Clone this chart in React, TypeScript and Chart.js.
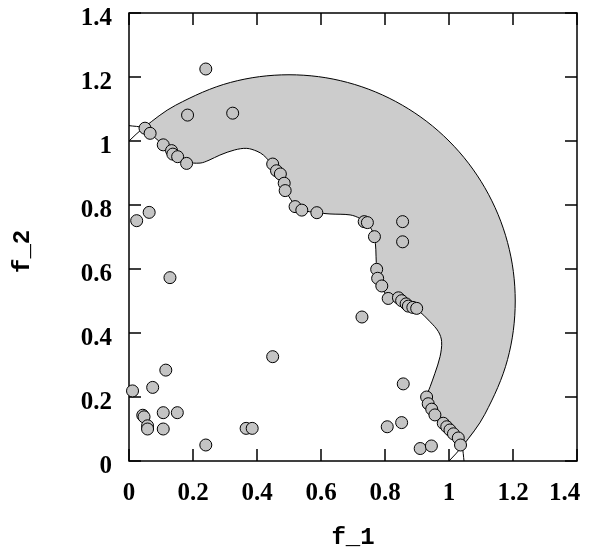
import React, { useEffect, useRef } from 'react';
import { Chart, registerables } from 'chart.js';

Chart.register(...registerables);

// ---- data ----
const scatterX = [
  0.240, 0.183, 0.324, 0.050, 0.066, 0.107, 0.133, 0.137, 0.152, 0.180,
  0.449, 0.461, 0.473, 0.485, 0.488, 0.519, 0.540, 0.587, 0.735, 0.745,
  0.767, 0.855, 0.855, 0.774, 0.777, 0.790, 0.810, 0.842, 0.852, 0.866,
  0.873, 0.887, 0.899, 0.728, 0.857, 0.930, 0.935, 0.946, 0.956, 0.982,
  0.993, 1.003, 1.014, 1.029, 1.036, 0.807, 0.852, 0.910, 0.945, 0.024,
  0.063, 0.128, 0.449, 0.011, 0.074, 0.115, 0.043, 0.047, 0.058, 0.058,
  0.107, 0.151, 0.107, 0.240, 0.366, 0.385,
];
const scatterY = [
  1.225, 1.081, 1.087, 1.040, 1.024, 0.988, 0.970, 0.959, 0.951, 0.930,
  0.928, 0.907, 0.897, 0.868, 0.845, 0.795, 0.784, 0.776, 0.748, 0.745,
  0.701, 0.748, 0.685, 0.599, 0.571, 0.547, 0.508, 0.510, 0.501, 0.491,
  0.484, 0.480, 0.477, 0.450, 0.241, 0.200, 0.179, 0.162, 0.144, 0.118,
  0.107, 0.097, 0.085, 0.072, 0.050, 0.107, 0.120, 0.039, 0.047, 0.751,
  0.777, 0.573, 0.326, 0.219, 0.230, 0.284, 0.143, 0.138, 0.110, 0.100,
  0.151, 0.151, 0.100, 0.050, 0.102, 0.102,
];

// outer boundary of the shaded region (first/last points are the tails to the axes)
const outerX = [0.0, 0.045, 0.146, 0.317, 0.5, 0.683, 0.854, 1.0, 1.112, 1.183, 1.207, 1.183, 1.112, 1.041, 1.0];
const outerY = [1.0, 1.041, 1.112, 1.183, 1.207, 1.183, 1.112, 1.0, 0.854, 0.683, 0.5, 0.317, 0.146, 0.045, 0.0];

// inner (wavy) boundary of the shaded region
const innerX = [
  0.0, 0.045, 0.07, 0.107, 0.14, 0.18, 0.222, 0.25, 0.284, 0.33, 0.368, 0.40,
  0.42, 0.44, 0.455, 0.47, 0.485, 0.49, 0.505, 0.522, 0.54, 0.587, 0.628,
  0.691, 0.722, 0.745, 0.762, 0.77, 0.772, 0.774, 0.78, 0.795, 0.81, 0.84,
  0.87, 0.9, 0.941, 0.967, 0.977, 0.972, 0.956, 0.941, 0.930, 0.935, 0.95,
  0.968, 0.99, 1.01, 1.03, 1.041, 1.047,
];
const innerY = [
  1.048, 1.041, 1.02, 0.988, 0.958, 0.935, 0.931, 0.94, 0.956, 0.972, 0.977, 0.968,
  0.956, 0.935, 0.915, 0.895, 0.865, 0.845, 0.818, 0.795, 0.784, 0.776, 0.772,
  0.769, 0.758, 0.742, 0.715, 0.68, 0.64, 0.60, 0.565, 0.535, 0.51, 0.505,
  0.49, 0.474, 0.435, 0.404, 0.373, 0.326, 0.274, 0.232, 0.201, 0.178, 0.152,
  0.132, 0.11, 0.09, 0.068, 0.045, 0.0,
];

const axisMin = 0;
const axisMax = 1.4;
const tickStep = 0.2;
const xTitle = 'f_1';
const yTitle = 'f_2';

const serif = "'Liberation Serif', 'Times New Roman', Times, serif";
const mono = "'Liberation Mono', 'Courier New', Courier, monospace";

const framePlugin = {
  id: 'frameTicks',
  beforeDatasetsDraw(chart: any) {
    const { ctx, chartArea: a, scales } = chart;
    const x = scales.x;
    const y = scales.y;
    const len = 12;
    ctx.save();
    ctx.strokeStyle = '#000';
    ctx.lineWidth = 1.5;
    ctx.strokeRect(a.left, a.top, a.right - a.left, a.bottom - a.top);
    ctx.beginPath();
    x.ticks.forEach((t: any) => {
      const px = x.getPixelForValue(t.value);
      ctx.moveTo(px, a.bottom);
      ctx.lineTo(px, a.bottom - len);
      ctx.moveTo(px, a.top);
      ctx.lineTo(px, a.top + len);
    });
    y.ticks.forEach((t: any) => {
      const py = y.getPixelForValue(t.value);
      ctx.moveTo(a.left, py);
      ctx.lineTo(a.left + len, py);
      ctx.moveTo(a.right, py);
      ctx.lineTo(a.right - len, py);
    });
    ctx.stroke();
    ctx.restore();
  },
};

const fmt = (v: number) => String(Math.round(v * 10) / 10);

export default function App() {
  const ref = useRef<HTMLCanvasElement>(null);

  useEffect(() => {
    const pts = (xs: number[], ys: number[]) => xs.map((x, i) => ({ x, y: ys[i] }));
    const outerPts = pts(outerX, outerY);
    const innerPts = pts(innerX, innerY);
    const fillPts = [...outerPts.slice(1, -1), ...innerPts.slice(2, -2).reverse()];

    const chart = new Chart(ref.current as HTMLCanvasElement, {
      type: 'scatter',
      data: {
        datasets: [
          {
            type: 'scatter',
            data: pts(scatterX, scatterY),
            pointRadius: 6,
            pointBackgroundColor: '#c4c4c4',
            pointBorderColor: '#000',
            pointBorderWidth: 1,
            clip: false,
          } as any,
          {
            type: 'line',
            data: outerPts,
            borderColor: '#000',
            borderWidth: 1,
            pointRadius: 0,
            fill: false,
            tension: 0.34,
          } as any,
          {
            type: 'line',
            data: innerPts,
            borderColor: '#000',
            borderWidth: 1,
            pointRadius: 0,
            fill: false,
            tension: 0.34,
          } as any,
          {
            type: 'line',
            data: fillPts,
            borderColor: 'rgba(0,0,0,0)',
            borderWidth: 0,
            backgroundColor: '#cccccc',
            pointRadius: 0,
            fill: 'shape',
            tension: 0.34,
          } as any,
        ],
      },
      options: {
        responsive: false,
        animation: false,
        events: [],
        layout: { padding: { left: 0, top: 13, right: 14, bottom: 0 } },
        plugins: { legend: { display: false }, tooltip: { enabled: false } },
        scales: {
          x: {
            type: 'linear',
            position: 'bottom',
            min: axisMin,
            max: axisMax,
            grid: { display: false, drawTicks: false },
            border: { display: false },
            ticks: {
              stepSize: tickStep,
              autoSkip: false,
              maxRotation: 0,
              padding: 18,
              color: '#000',
              font: { family: serif, size: 25, weight: 'bold' },
              callback: (v: any) => (Math.abs(v - axisMax) < 1e-9 ? fmt(v) + '    ' : fmt(v)),
            },
            title: {
              display: true,
              text: xTitle,
              color: '#000',
              font: { family: mono, size: 24, weight: 'bold' },
              padding: { top: 0, bottom: 0 },
            },
            afterFit: (s: any) => {
              s.height = 91;
              s.paddingLeft = 0;
              s.paddingRight = 0;
              s.paddingTop = 0;
              s.paddingBottom = 0;
            },
          },
          y: {
            type: 'linear',
            position: 'left',
            min: axisMin,
            max: axisMax,
            grid: { display: false, drawTicks: false },
            border: { display: false },
            ticks: {
              stepSize: tickStep,
              autoSkip: false,
              padding: 17,
              labelOffset: 6,
              color: '#000',
              font: { family: serif, size: 25, weight: 'bold' },
              callback: (v: any) => fmt(v),
            },
            title: {
              display: true,
              text: yTitle + '  ',
              color: '#000',
              font: { family: mono, size: 24, weight: 'bold' },
              padding: { top: 9, bottom: 0 },
            },
            afterFit: (s: any) => {
              s.width = 129;
              s.paddingLeft = 0;
              s.paddingRight = 0;
              s.paddingTop = 0;
              s.paddingBottom = 0;
            },
          },
        },
      } as any,
      plugins: [framePlugin],
    });
    return () => chart.destroy();
  }, []);

  return (
    <div style={{ position: 'absolute', left: 0, top: 0, width: 591, height: 552, background: '#fff' }}>
      <canvas ref={ref} width={591} height={552} style={{ display: 'block' }} />
    </div>
  );
}
